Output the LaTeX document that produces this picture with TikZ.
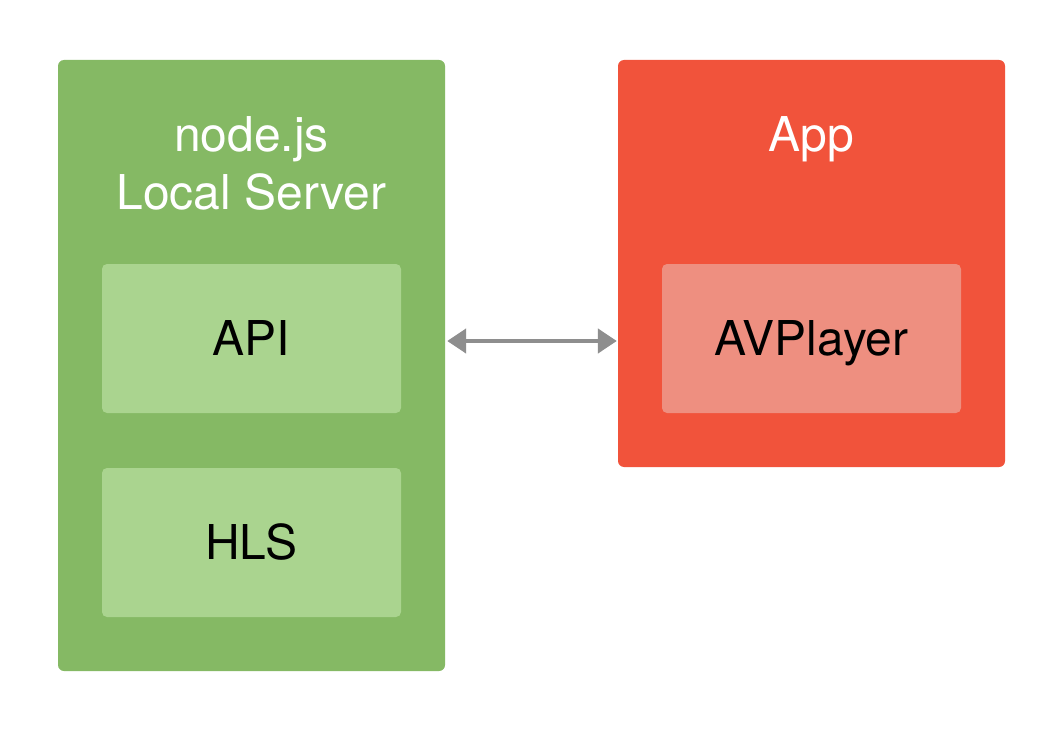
\documentclass[tikz,border=0pt]{standalone}
\usepackage{fontspec}
\setmainfont{TeX Gyre Heros}
\usetikzlibrary{arrows.meta}
\definecolor{gdark}{HTML}{85B964}
\definecolor{glight}{HTML}{AAD48F}
\definecolor{rdark}{HTML}{F1533B}
\definecolor{rlight}{HTML}{EE8F80}
\definecolor{agray}{HTML}{8E8E8E}
\tikzset{
  panel/.style={draw=none, rounded corners=6pt, inner sep=0pt},
  inner/.style={draw=none, rounded corners=5pt, inner sep=0pt, minimum width=299pt, minimum height=149pt, font=\fontsize{48}{58}\selectfont, text=black, text height=34pt, text depth=0pt},
  ttl/.style={anchor=base, font=\fontsize{48}{58}\selectfont, text=white, inner sep=0pt},
  arr/.style={draw=agray, line width=4.5pt, {Triangle[length=19pt,width=24pt]}-{Triangle[length=19pt,width=24pt]}}
}
\begin{document}
\begin{tikzpicture}[x=1pt,y=-1pt]
\useasboundingbox[fill=white] (0,0) rectangle (1062,730);
\node[panel, fill=gdark, minimum width=387pt, minimum height=611pt] (green) at (251.5,365.5) {};
\node[panel, fill=rdark, minimum width=387pt, minimum height=407pt] (red) at (811.5,263.5) {};
\node[ttl] (t1) at (251.5,152) {node.js};
\node[ttl] (t2) at (251.5,209) {Local Server};
\node[ttl] (t3) at (811.5,152) {App};
\node[inner, fill=glight] (api) at (251.5,338.5) {API};
\node[inner, fill=glight] (hls) at (251.5,542.5) {HLS};
\node[inner, fill=rlight] (avp) at (811.5,338.5) {AVPlayer};
\coordinate (a1) at ([xshift=2pt]green.east |- 0,341);
\coordinate (a2) at ([xshift=-1pt]red.west |- 0,341);
\draw[arr] (a1) -- (a2);
\end{tikzpicture}
\end{document}
